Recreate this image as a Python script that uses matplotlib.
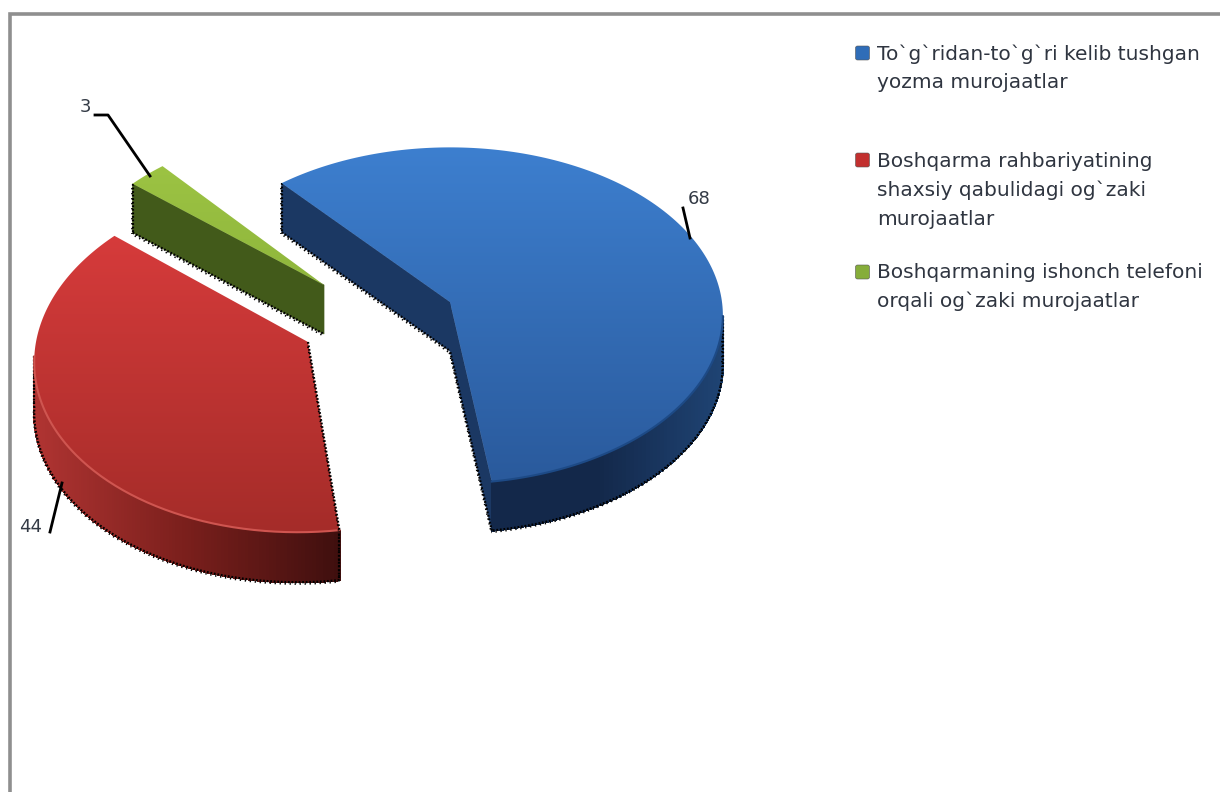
import numpy as np
import matplotlib
matplotlib.use('Agg')
import matplotlib.pyplot as plt
from matplotlib.colors import to_rgb
from matplotlib.patches import Polygon, FancyBboxPatch

# chart data
categories = ["To`g`ridan-to`g`ri kelib tushgan\nyozma murojaatlar",
              "Boshqarma rahbariyatining\nshaxsiy qabulidagi og`zaki\nmurojaatlar",
              "Boshqarmaning ishonch telefoni\norqali og`zaki murojaatlar"]
values = [68, 44, 3]

# layout, in image pixels
apexes = [(450, 302), (308, 342), (324, 285)]
radii_x = [272, 272, 261]
radii_y = [167, 175, 167]
skews = [0, -0.055, 0]
depths = [49, 50, 49]
# which radial edges have a wall the viewer can see (0 = first edge, -1 = last)
open_sides = [(0, -1), (), (0,)]
top_cols = [("#3d7fcf", "#2a5a9c"), ("#d63b3b", "#a52c29"), ("#9cc343", "#8fb63c")]
side_cols = ["#1b3863", "#6b1a18", "#425a1a"]
wall_cols = [("#1f4474", "#13284a", "#13284a"),
             ("#b03432", "#7a1f1c", "#3f0f0e"),
             ("#425a1a", "#425a1a", "#425a1a")]
rim_cols = ["#1d4a86", "#cf5550", "#8fb63c"]
legend_cols = ["#2f6db8", "#c2302f", "#86ad3a"]
legend_y = [53, 160, 272]
legend_text_y = [54, 162, 273]
value_pos = [(699, 199), (31, 527), (85, 107)]
leaders = [[(683, 208), (690, 238)],
           [(50, 532), (62, 483)],
           [(95, 115), (108, 115), (150, 176)]]

PERSP = 0.08
START = 131


def project(i, theta):
    # flat disc seen from above, the back edge a little smaller than the front
    ax0, ay0 = apexes[i]
    f = 1 / (1 + PERSP * np.sin(theta))
    dy = -radii_y[i] * np.sin(theta) * f
    return np.column_stack([ax0 + radii_x[i] * np.cos(theta) * f + skews[i] * dy, ay0 + dy])


def gradient_fill(ax, poly, c1, c2):
    t = np.linspace(0, 1, 256)[:, None, None]
    img = np.array(to_rgb(c1))[None, None, :] * (1 - t) + np.array(to_rgb(c2))[None, None, :] * t
    y0, y1 = poly[:, 1].min(), poly[:, 1].max()
    x0, x1 = poly[:, 0].min(), poly[:, 0].max()
    im = ax.imshow(img, extent=[x0, x1, y1, y0], aspect='auto', zorder=3)
    patch = Polygon(poly, closed=True, transform=ax.transData, fc='none', ec='none')
    ax.add_patch(patch)
    im.set_clip_path(patch)


def dither(ax, pts, z=2.5):
    # the original has a checker of black dots round the shape
    ax.plot(pts[:, 0], pts[:, 1], color='black', lw=1.6, ls=(0, (0.8, 0.8)), zorder=z)
    ax.plot(pts[:, 0] - 0.6, pts[:, 1] + 1.8, color='black', lw=1.2, ls=(1.2, (0.8, 2.2)), zorder=z)


def wall_colour(cols, u):
    u = min(max(u, 0), 1)
    if u < 0.5:
        return np.array(to_rgb(cols[0])) * (1 - 2 * u) + np.array(to_rgb(cols[1])) * 2 * u
    return np.array(to_rgb(cols[1])) * (2 - 2 * u) + np.array(to_rgb(cols[2])) * (2 * u - 1)


def draw_slice(ax, a0, a1, i):
    theta = np.radians(np.linspace(a0, a1, 200))
    arc = project(i, theta)
    down = np.array([0, depths[i]])
    ap = np.array(apexes[i], dtype=float)

    # radial walls
    for side in open_sides[i]:
        end = arc[side]
        wall = np.array([ap, end, end + down, ap + down])
        ax.add_patch(Polygon(wall, closed=True, fc=side_cols[i], ec=side_cols[i], lw=0.5, zorder=2))
        dither(ax, wall[2:])
    dither(ax, np.array([arc[0], arc[0] + down]))

    # outer wall, only the part turned to the viewer
    front = np.where(np.sin(theta) < -PERSP)[0]
    if len(front) > 2:
        xs = arc[front, 0]
        lo, hi = arc[:, 0].min(), arc[:, 0].max()
        for j in range(len(front) - 1):
            k0, k1 = front[j], front[j + 1]
            quad = np.array([arc[k0], arc[k1], arc[k1] + down, arc[k0] + down])
            t = (xs[j] - lo) / (hi - lo)
            # the blue wall darkens to the left, the red one to the right
            u = (1 - t) * 1.8 if i == 0 else t
            c = wall_colour(wall_cols[i], u)
            ax.add_patch(Polygon(quad, closed=True, fc=c, ec=c, lw=1, antialiased=False, zorder=2))
        dither(ax, arc[front] + down)
        # side of the disc where the wall meets its widest point
        widest = arc[front[0] if i == 0 else front[-1]]
        dither(ax, np.array([widest, widest + down]))

    # top face
    poly = np.vstack([ap, arc])
    gradient_fill(ax, poly, top_cols[i][0], top_cols[i][1])
    if len(front) > 2:
        ax.plot(arc[front, 0], arc[front, 1], color=rim_cols[i], lw=1.5, zorder=4)
    if i == 1:
        dither(ax, np.array([ap, arc[0]]), z=4)


fig = plt.figure(figsize=(12.2, 7.92), dpi=100, facecolor='white')
ax = fig.add_axes([0, 0, 1, 1])

angle = START
for i, val in enumerate(values):
    sweep = val / sum(values) * 360
    draw_slice(ax, angle, angle - sweep, i)
    angle -= sweep

ax.set_xlim(0, 1220)
ax.set_ylim(792, 0)
ax.axis('off')

# frame of the chart area
ax.plot([1220, 10, 10], [14, 14, 792], color='#8f8f8f', lw=2.6, solid_joinstyle='miter', zorder=1)

for val, pos, line in zip(values, value_pos, leaders):
    ax.text(pos[0], pos[1], str(val), fontsize=13, color='#333a45', ha='center', va='center', zorder=6)
    pts = np.array(line)
    ax.plot(pts[:, 0], pts[:, 1], color='black', lw=2, zorder=6)

for cat, y, ty, col in zip(categories, legend_y, legend_text_y, legend_cols):
    ax.add_patch(FancyBboxPatch((857, y - 5.5), 11, 11, boxstyle='round,pad=1.5,rounding_size=2',
                                fc=col, ec='#555555', lw=0.4, zorder=5))
    ax.text(877, ty - 10, cat, fontsize=14.5, color='#2f3540', ha='left', va='top',
            linespacing=1.64, zorder=5)

fig.savefig('out.png', dpi=100)
